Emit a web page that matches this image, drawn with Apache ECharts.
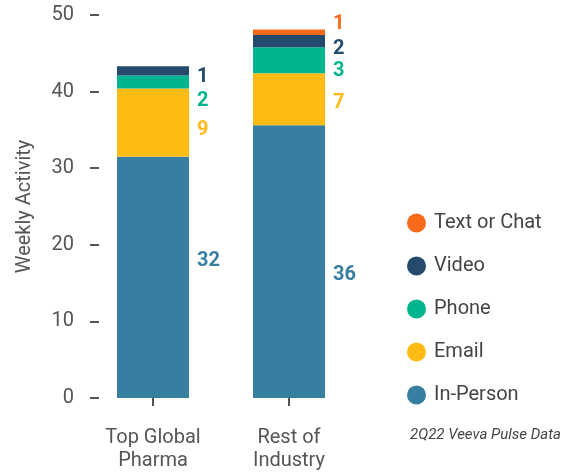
<!DOCTYPE html>
<html><head><meta charset="utf-8">
<script src="https://cdn.jsdelivr.net/npm/echarts@6/dist/echarts.min.js"></script>
<style>html,body{margin:0;padding:0;background:#fff}#c{width:570px;height:473px}</style>
</head><body><div id="c"></div>
<script>
const categories = ['Top Global\nPharma', 'Rest of\nIndustry'];
const inPerson = [31.5, 35.6];
const email = [8.9, 6.8];
const phone = [1.7, 3.4];
const video = [1.2, 1.6];
const textChat = [0, 0.7];
const yTicks = [0, 10, 20, 30, 40, 50];

const colors = {
  'In-Person': '#367FA0',
  'Email': '#FDBB14',
  'Phone': '#00B48D',
  'Video': '#244B6E',
  'Text or Chat': '#F96A1B'
};
// label vertical nudges (style only)
const nudges = {
  'In-Person': [-16, 13],
  'Email': [7, 4],
  'Phone': [19, 11],
  'Video': [6, 8],
  'Text or Chat': [0, -8]
};
const FONT = 'Roboto, "Noto Sans", sans-serif';

function mk(name, vals) {
  return {
    name, type: 'bar', stack: 'a', barWidth: 72,
    itemStyle: { color: colors[name] },
    data: vals.map((v, i) => ({
      value: v,
      label: {
        show: v > 0, position: 'right', distance: 8,
        offset: [0, nudges[name][i]],
        color: colors[name], fontWeight: 'bold', fontSize: 20, fontFamily: FONT,
        formatter: p => String(Math.round(p.value))
      }
    }))
  };
}

const chart = echarts.init(document.getElementById('c'), null, { renderer: 'canvas' });
chart.setOption({
  animation: false,
  textStyle: { fontFamily: FONT },
  grid: { left: 85, width: 272, top: 15, bottom: 75 },
  xAxis: {
    type: 'category', data: categories, offset: 12,
    axisLine: { show: false },
    axisTick: { show: true, alignWithLabel: true, length: 8, lineStyle: { color: '#555', width: 2 } },
    axisLabel: { color: '#555', fontSize: 20, lineHeight: 23, margin: 16, fontFamily: FONT }
  },
  yAxis: {
    type: 'value', min: yTicks[0], max: yTicks[yTicks.length - 1], interval: 10, offset: -5,
    name: 'Weekly Activity', nameLocation: 'middle', nameGap: 55,
    nameTextStyle: { color: '#555', fontSize: 20, fontFamily: FONT },
    axisLine: { show: false },
    axisTick: { show: true, inside: true, length: 9, lineStyle: { color: '#555', width: 2 } },
    splitLine: { show: false },
    axisLabel: { color: '#555', fontSize: 20, margin: 16, fontFamily: FONT }
  },
  legend: {
    orient: 'vertical', left: 407, top: 213, padding: 0,
    data: ['Text or Chat', 'Video', 'Phone', 'Email', 'In-Person'],
    icon: 'circle', itemWidth: 19, itemHeight: 19, itemGap: 23,
    textStyle: { color: '#444', fontSize: 20, lineHeight: 19, fontFamily: FONT, padding: [0, 0, 0, 3] }
  },
  graphic: [{
    type: 'text', left: 410, top: 428,
    style: { text: '2Q22 Veeva Pulse Data', fill: '#444', fontSize: 15, fontStyle: 'italic', fontFamily: FONT }
  }],
  series: [
    mk('In-Person', inPerson),
    mk('Email', email),
    mk('Phone', phone),
    mk('Video', video),
    mk('Text or Chat', textChat)
  ]
});
</script></body></html>
